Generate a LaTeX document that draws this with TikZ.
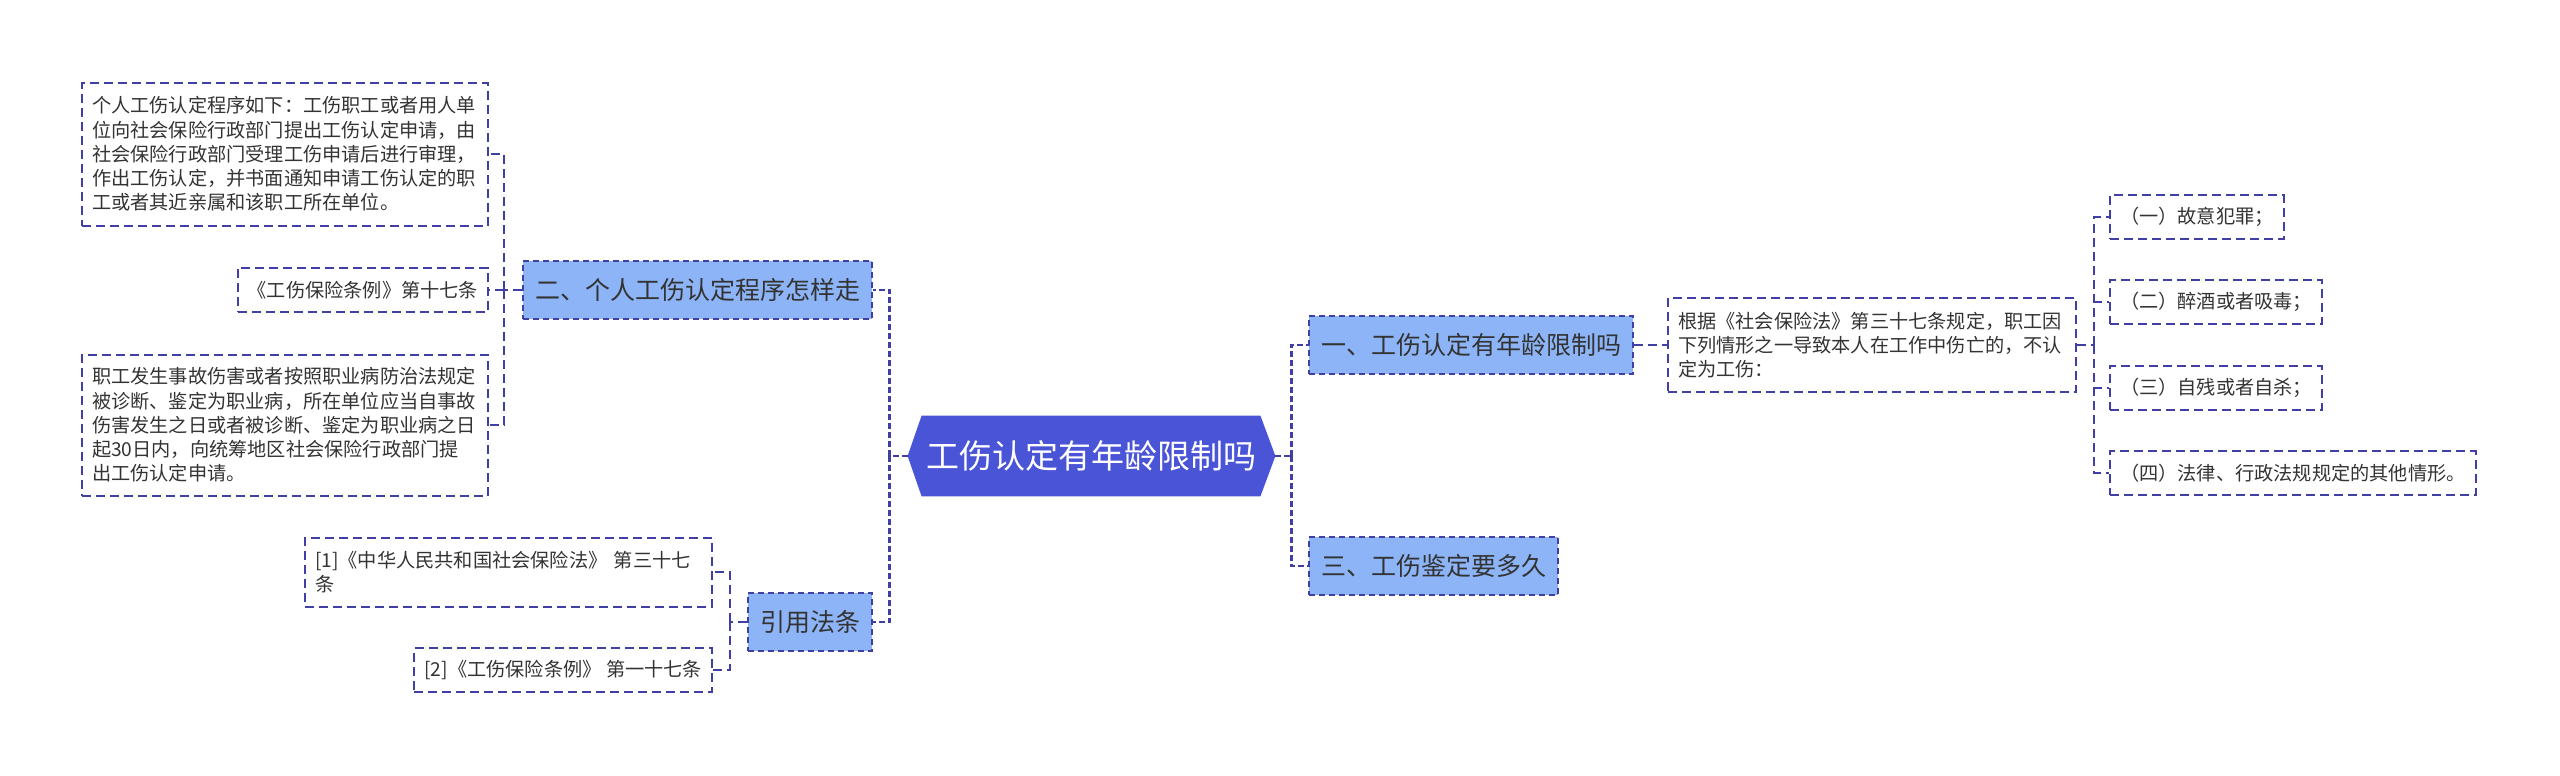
\documentclass[tikz,border=0pt]{standalone}
\usepackage{fontspec}
\setmainfont{Noto Sans CJK SC}
\usetikzlibrary{backgrounds,calc}
\definecolor{hexfill}{HTML}{4A54D6}
\definecolor{subfill}{HTML}{8CB4F6}
\definecolor{linecol}{HTML}{3F3FA6}
\definecolor{inkcol}{HTML}{333333}

\begin{document}
\begin{tikzpicture}[
    x=0.5pt, y=-0.5pt,
    topic/.style={inner sep=0pt, minimum width=183.5pt, minimum height=40pt, text=white, font=\fontsize{16.5}{20}\selectfont},
    sub/.style={draw=linecol, line width=1pt, dash pattern=on 3pt off 2pt, fill=subfill, text=inkcol, inner xsep=6pt, minimum height=29pt, font=\fontsize{12.5}{15}\selectfont},
    leaf/.style={draw=linecol, line width=1pt, dash pattern=on 4.5pt off 2.5pt, text=inkcol, inner xsep=5pt, minimum height=22pt, align=left, font=\fontsize{9.6}{12.1}\selectfont},
    link/.style={draw=linecol, line width=1pt, dash pattern=on 4.5pt off 2.5pt},
    trunk/.style={draw=linecol, line width=1.4pt, dash pattern=on 3pt off 1.5pt}
]
\useasboundingbox (0,0) rectangle (2560,776);

% centre
\node[topic] (root) at (1091.5,456) {工伤认定有年龄限制吗};
\begin{scope}[on background layer]
\fill[hexfill] (root.west) -- ($(root.north west)+(14,0)$) -- ($(root.north east)+(-15,0)$) -- (root.east)
    -- ($(root.south east)+(-15,0)$) -- ($(root.south west)+(14,0)$) -- cycle;
\end{scope}

% main branches
\node[sub, anchor=west] (p1) at (1308,345) {一、工伤认定有年龄限制吗};
\node[sub, anchor=west] (p3) at (1308,566) {三、工伤鉴定要多久};
\node[sub, anchor=east] (p2) at (873,290) {二、个人工伤认定程序怎样走};
\node[sub, anchor=east] (cite) at (873,622) {引用法条};

% left details
\node[leaf, anchor=east, text width=193pt, minimum height=71.5pt] (p2a) at (489,154) {个人工伤认定程序如下：工伤职工或者用人单\\位向社会保险行政部门提出工伤认定申请，由\\社会保险行政部门受理工伤申请后进行审理，\\作出工伤认定，并书面通知申请工伤认定的职\\工或者其近亲属和该职工所在单位。};
\node[leaf, anchor=east] (p2b) at (489,290) {《工伤保险条例》第十七条};
\node[leaf, anchor=east, text width=193pt, minimum height=70.5pt] (p2c) at (489,425) {职工发生事故伤害或者按照职业病防治法规定\\被诊断、鉴定为职业病，所在单位应当自事故\\伤害发生之日或者被诊断、鉴定为职业病之日\\起30日内，向统筹地区社会保险行政部门提\\出工伤认定申请。};
\node[leaf, anchor=east, text width=193.5pt, minimum height=34.5pt] (c1) at (713,572) {[1]《中华人民共和国社会保险法》 第三十七\\条};
\node[leaf, anchor=east] (c2) at (713,670) {[2]《工伤保险条例》 第一十七条};

% right details
\node[leaf, anchor=west, text width=194pt, minimum height=47pt] (dr) at (1667,345) {根据《社会保险法》第三十七条规定，职工因\\下列情形之一导致本人在工作中伤亡的，不认\\定为工伤：};
\node[leaf, anchor=west] (i1) at (2109,217) {（一）故意犯罪；};
\node[leaf, anchor=west] (i2) at (2109,302) {（二）醉酒或者吸毒；};
\node[leaf, anchor=west] (i3) at (2109,388) {（三）自残或者自杀；};
\node[leaf, anchor=west] (i4) at (2109,473) {（四）法律、行政法规规定的其他情形。};

% connectors
\draw[trunk] (root.west) -- ++(-18,0) coordinate (lt);
\draw[trunk] (lt) |- (p2.east);
\draw[trunk] (lt) |- (cite.east);
\draw[trunk] (root.east) -- ++(16,0) coordinate (rt);
\draw[trunk] (rt) |- (p1.west);
\draw[trunk] (rt) |- (p3.west);

\draw[link] (p2.west) -- ++(-18,0) coordinate (lp2);
\foreach \n in {p2a,p2b,p2c} \draw[link] (lp2) |- (\n.east);
\draw[link] (cite.west) -- ++(-17,0) coordinate (lc);
\foreach \n in {c1,c2} \draw[link] (lc) |- (\n.east);

\draw[link] (p1.east) -- (dr.west);
\draw[link] (dr.east) -- ++(17,0) coordinate (rd);
\foreach \n in {i1,i2,i3,i4} \draw[link] (rd) |- (\n.west);
\end{tikzpicture}
\end{document}
